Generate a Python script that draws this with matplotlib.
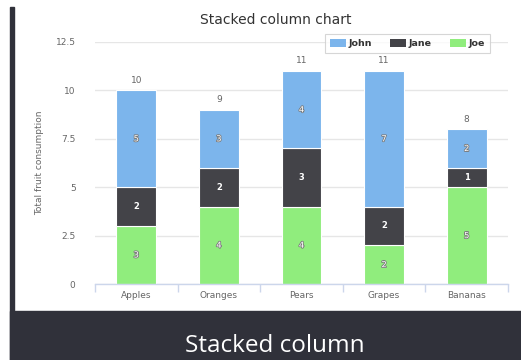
import numpy as np
import matplotlib.pyplot as plt
import matplotlib.patheffects as pe
from matplotlib.patches import Rectangle

fruits = ["Apples", "Oranges", "Pears", "Grapes", "Bananas"]
john = [5, 3, 4, 7, 2]
jane = [2, 2, 3, 2, 1]
joe = [3, 4, 4, 2, 5]
yticks = [0, 2.5, 5, 7.5, 10, 12.5]
ytick_labels = ["0", "2.5", "5", "7.5", "10", "12.5"]

W, H = 521, 360
dark = "#30313a"
grey_txt = "#666666"

fig = plt.figure(figsize=(W / 100, H / 100), dpi=100)
fig.patch.set_facecolor("white")

# dark frame: thin strip on the left, band along the bottom
fig.add_artist(Rectangle((10 / W, 0), 4 / W, 1 - 7 / H, transform=fig.transFigure,
                         color=dark, zorder=0))
fig.add_artist(Rectangle((10 / W, 0), 1 - 10 / W, 49 / H, transform=fig.transFigure,
                         color=dark, zorder=0))
fig.text(275 / W, 1 - 346 / H, "Stacked column", color="white", fontsize=17.5,
         family="Open Sans", ha="center", va="center")

ax = fig.add_axes([95 / W, 1 - 284 / H, 413 / W, 242 / H])
ax.set_xlim(-0.5, 4.5)
ax.set_ylim(0, 12.5)
for s in ["left", "right", "top"]:
    ax.spines[s].set_visible(False)
ax.spines["bottom"].set_color("#ccd6eb")
ax.spines["bottom"].set_linewidth(1)
ax.set_yticks(yticks)
ax.set_yticklabels(ytick_labels)
ax.yaxis.grid(True, color="#e6e6e6", linewidth=1)
ax.set_axisbelow(True)
ax.tick_params(axis="y", length=0, pad=14, labelsize=6.5, labelcolor=grey_txt)

x = np.arange(len(fruits))
ax.set_xticks(x)
ax.set_xticklabels(fruits)
ax.set_xticks(np.arange(-0.5, len(fruits)), minor=True)
ax.tick_params(axis="x", which="major", length=0, pad=5, labelsize=6.5, labelcolor=grey_txt)
ax.tick_params(axis="x", which="minor", length=6, color="#ccd6eb", width=1, direction="out")

outline = [pe.withStroke(linewidth=1.2, foreground="#7a7a7a")]
series = [("Joe", joe, "#90ed7d"), ("Jane", jane, "#434348"), ("John", john, "#7cb5ec")]
bottom = np.zeros(len(fruits))
handles = {}
for name, vals, col in series:
    vals = np.array(vals)
    bars = ax.bar(x, vals, 0.48, bottom=bottom, color=col, edgecolor="white",
                  linewidth=0.8, zorder=2)
    handles[name] = bars
    for xi, b, v in zip(x, bottom, vals):
        if name == "Jane":
            ax.text(xi, b + v / 2, str(v), ha="center", va="center", fontsize=6,
                    color="white", fontweight="bold", zorder=3)
        else:
            ax.text(xi, b + v / 2, str(v), ha="center", va="center", fontsize=6,
                    color="white", path_effects=outline, zorder=3)
    bottom = bottom + vals

for xi, tot in zip(x, bottom):
    ax.annotate(str(int(tot)), (xi, tot), xytext=(0, 4), textcoords="offset points",
                ha="center", va="bottom", fontsize=6.5, color=grey_txt)

ax.set_ylabel("Total fruit consumption", fontsize=6.5, color=grey_txt, labelpad=8)

fig.text(276 / W, 1 - 20 / H, "Stacked column chart", ha="center", va="center",
         fontsize=10, color="#333333")

leg = ax.legend([handles["John"], handles["Jane"], handles["Joe"]], ["John", "Jane", "Joe"],
                loc="upper left", bbox_to_anchor=(325 / W, 1 - 34 / H),
                bbox_transform=fig.transFigure, ncol=3, fontsize=6.8, frameon=True,
                handlelength=1.7, handleheight=1.0, handletextpad=0.3, columnspacing=1.9,
                borderpad=0.5, borderaxespad=0, fancybox=False)
leg.get_frame().set_edgecolor("#cccccc")
leg.get_frame().set_linewidth(0.8)
for t in leg.get_texts():
    t.set_fontweight("bold")
    t.set_color("#333333")
for p in leg.get_patches():
    p.set_edgecolor("none")

fig.savefig("out.png", dpi=100)
